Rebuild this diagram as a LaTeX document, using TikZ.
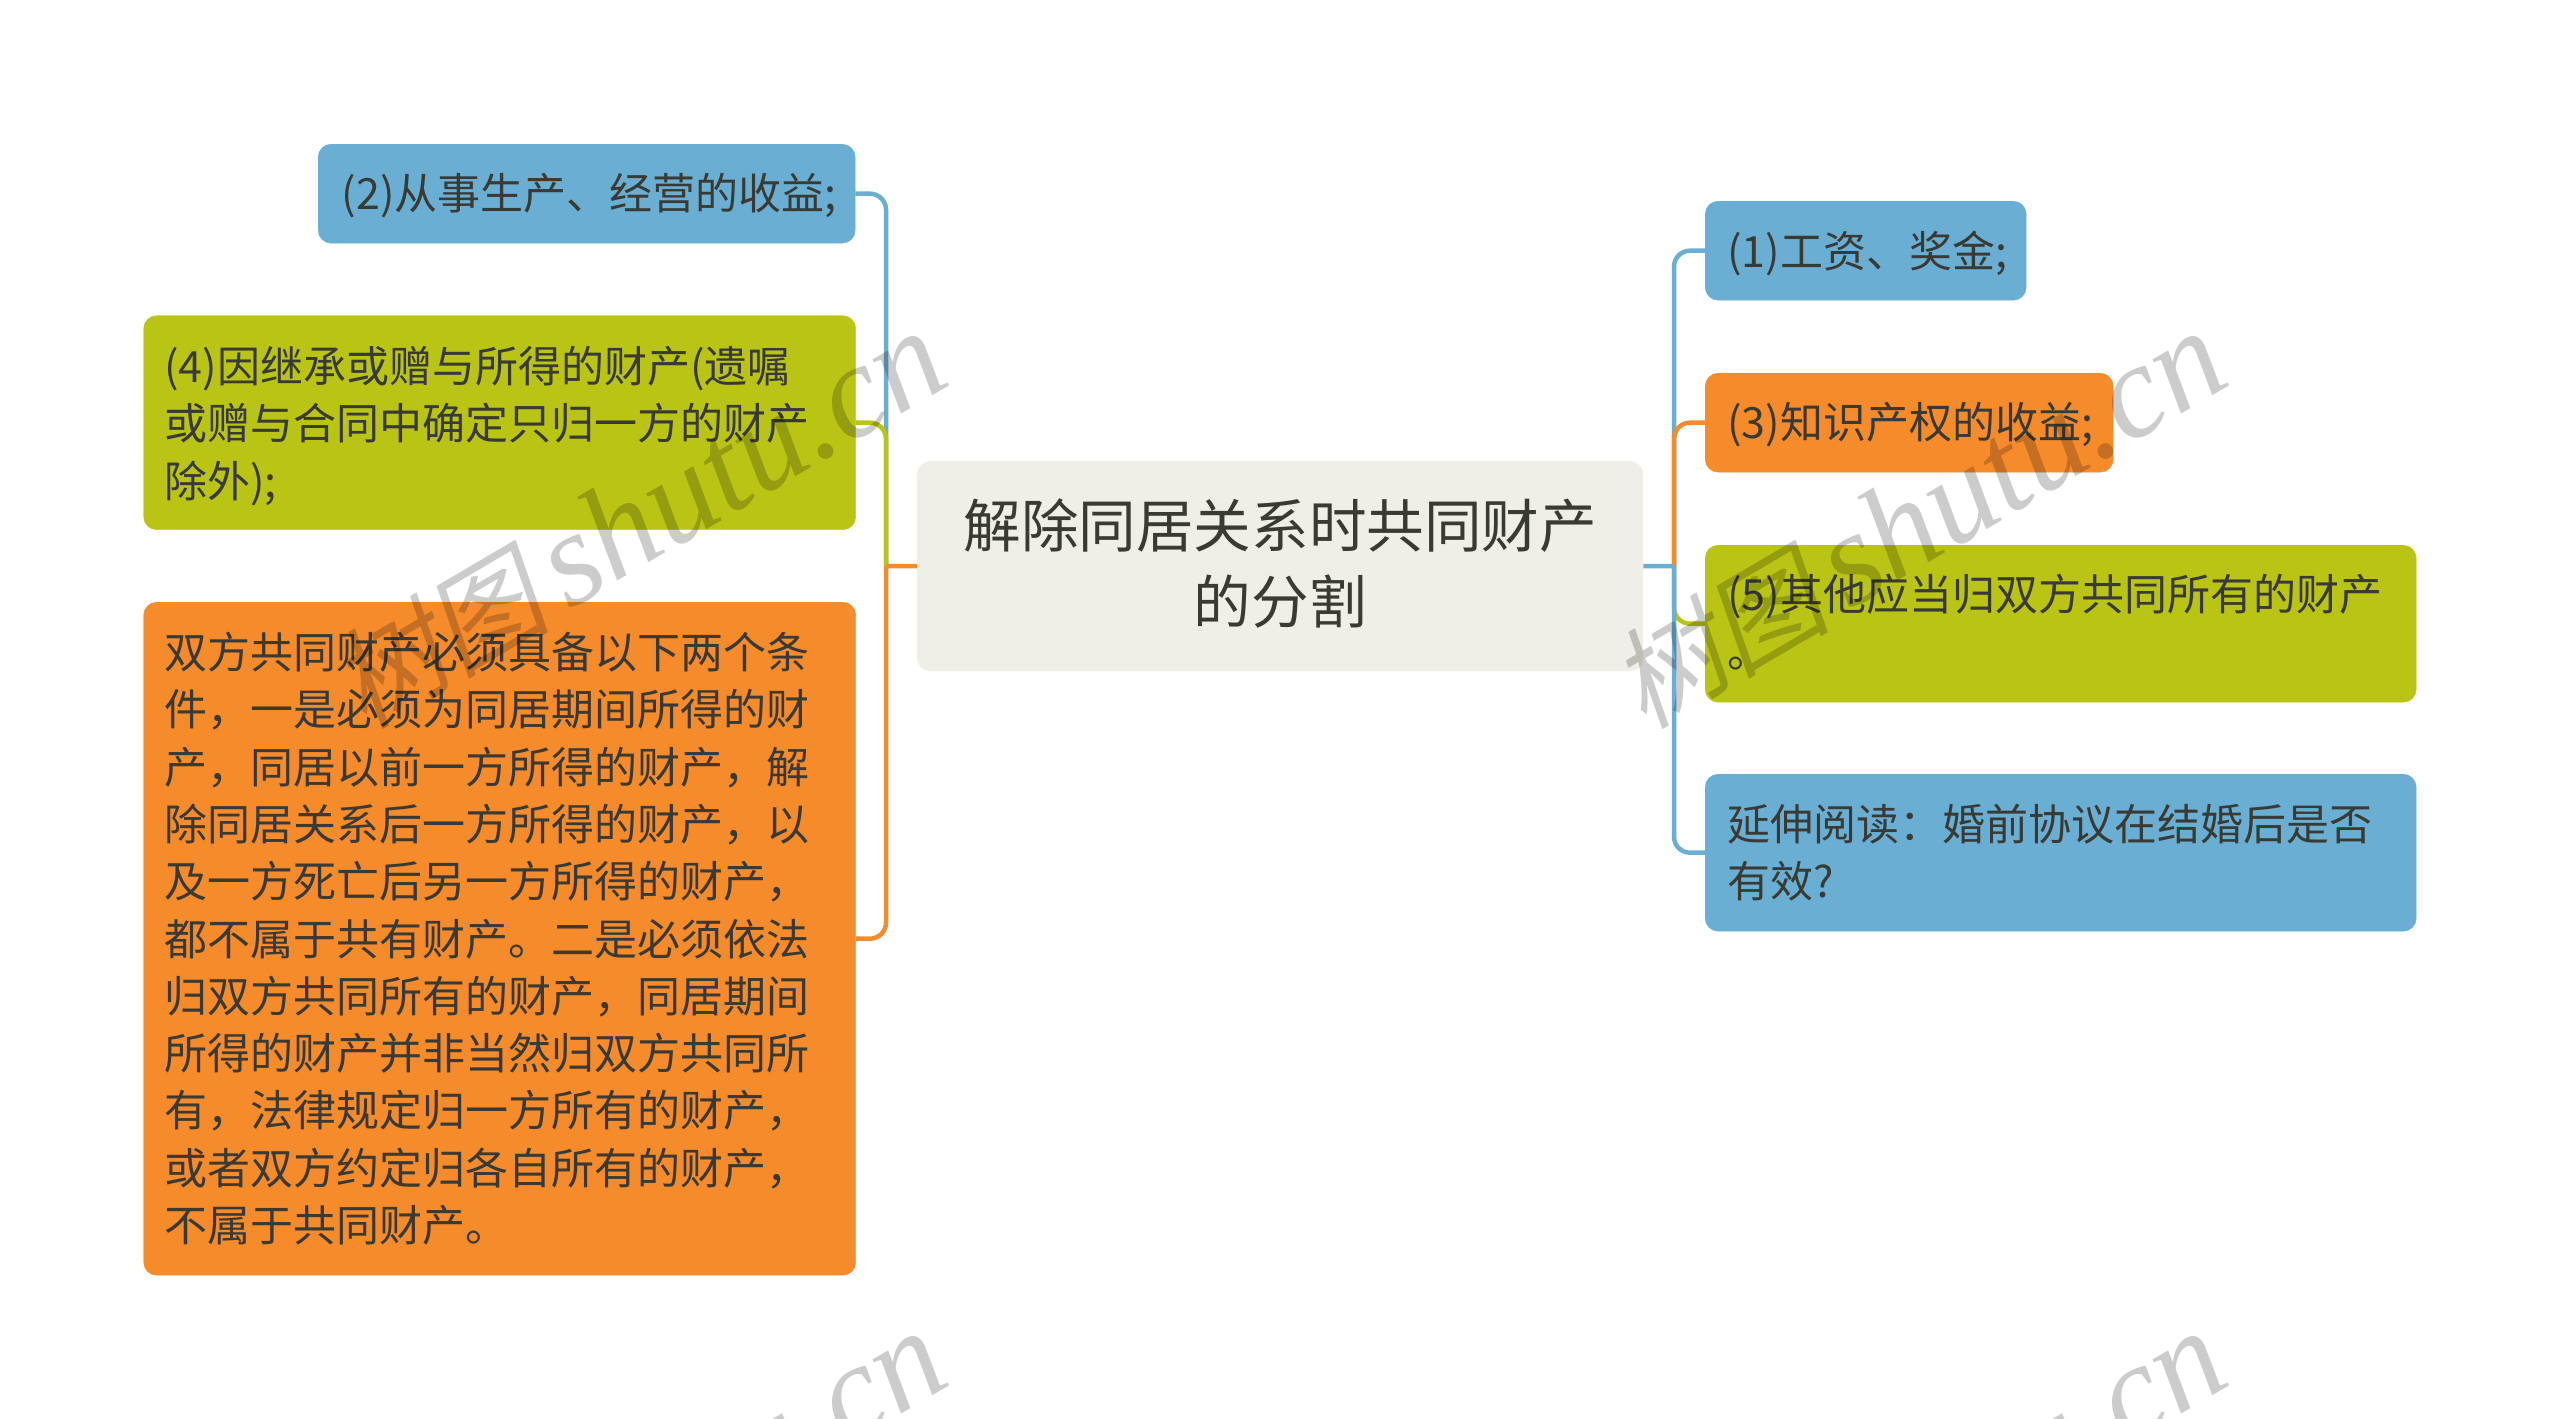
\documentclass[tikz,border=0pt]{standalone}
\usepackage{fontspec}
\setmainfont{Noto Sans CJK SC}
\newfontfamily\wmcjk[FakeSlant=0.2]{Noto Sans CJK SC}
\newfontfamily\wmlat{Liberation Serif}
\definecolor{cblue}{HTML}{6AAFD3}
\definecolor{cgreen}{HTML}{BAC414}
\definecolor{corange}{HTML}{F68B2C}
\definecolor{ccenter}{HTML}{EFEFE7}
\definecolor{ctext}{HTML}{3A3A34}
\newcommand{\wmtext}{{\fontsize{110}{120}\selectfont\wmcjk 树图}\hspace{18pt}{\fontsize{133}{140}\selectfont\wmlat\itshape shutu.cn}}
\newcommand{\topstrut}[1]{\rule{0pt}{#1}}
\newcommand{\botstrut}[1]{\rule[-#1]{0pt}{#1}}
\tikzset{
  x=1pt,y=-1pt,
  leaf/.style={anchor=north west,rounded corners=13pt,inner ysep=0pt,inner xsep=22pt,align=left,text=ctext,
    font=\fontsize{43}{57.3}\selectfont},
  root/.style={anchor=north west,rounded corners=13pt,inner ysep=0pt,inner xsep=10pt,align=center,text=ctext,fill=ccenter,
    font=\fontsize{57.6}{76}\selectfont},
  link/.style={line width=4.5pt,rounded corners=16pt},
  wmark/.style={rotate=30.5,opacity=.2,text opacity=.2,text=black,inner sep=0pt},
}
\begin{document}
\begin{tikzpicture}
\useasboundingbox (0,0) rectangle (2560,1419);
\fill[white] (0,0) rectangle (2560,1419);

\coordinate (tl) at (886,566);
\coordinate (tr) at (1674,566);

\node[root,minimum width=726pt,minimum height=210pt,text width=706pt] (c) at (917,461)
  {解除同居关系时共同财产\\的分割\botstrut{11pt}};

\node[leaf,fill=cblue,draw=cblue,minimum width=537pt,minimum height=99pt,text width=515pt,inner xsep=11pt] (l2) at (318,144)
  {\topstrut{40.5pt}\hspace{12.5pt}(2)从事生产、经营的收益;};
\node[leaf,fill=cgreen,draw=cgreen,minimum width=712pt,minimum height=214pt,text width=671pt,inner xsep=20.5pt] (l4) at (143.5,315.5)
  {\topstrut{42.5pt}(4)因继承或赠与所得的财产(遗嘱\\或赠与合同中确定只归一方的财产\\除外);};
\node[leaf,fill=corange,draw=corange,minimum width=712pt,minimum height=673pt,text width=671pt,inner xsep=20.5pt] (l0) at (143.5,602)
  {双方共同财产必须具备以下两个条\\件，一是必须为同居期间所得的财\\产，同居以前一方所得的财产，解\\除同居关系后一方所得的财产，以\\及一方死亡后另一方所得的财产，\\都不属于共有财产。二是必须依法\\归双方共同所有的财产，同居期间\\所得的财产并非当然归双方共同所\\有，法律规定归一方所有的财产，\\或者双方约定归各自所有的财产，\\不属于共同财产。};

\node[leaf,fill=cblue,draw=cblue,minimum width=321pt,minimum height=99pt,text width=277pt] (r1) at (1705,201)
  {\topstrut{42pt}(1)工资、奖金;};
\node[leaf,fill=corange,draw=corange,minimum width=408pt,minimum height=99pt,text width=364pt] (r3) at (1705,373)
  {\topstrut{40.5pt}(3)知识产权的收益;};
\node[leaf,fill=cgreen,draw=cgreen,minimum width=711pt,minimum height=157pt,text width=667pt] (r5) at (1705,545)
  {(5)其他应当归双方共同所有的财产\\。\botstrut{6pt}};
\node[leaf,fill=cblue,draw=cblue,minimum width=711pt,minimum height=157pt,text width=667pt] (r6) at (1705,774)
  {延伸阅读：婚前协议在结婚后是否\\有效?};

\draw[link,cblue] (tl) |- (l2.east);
\draw[link,cgreen] (tl) |- (l4.east);
\draw[link,corange] (tl) |- (l0.east);
\draw[link,corange] (c.west) -- (tl);

\draw[link,cblue] (tr) |- (r1.west);
\draw[link,corange] (tr) |- (r3.west);
\draw[link,cgreen] (tr) |- (r5.west);
\draw[link,cblue] (tr) |- (r6.west);
\draw[link,cblue] (c.east) -- (tr);

\begin{scope}
\clip (0,0) rectangle (2560,1419);
\node[wmark] (w1) at (638,521) {\wmtext};
\node[wmark] (w2) at (1918,521) {\wmtext};
\node[wmark] (w3) at (638,1521) {\wmtext};
\node[wmark] (w4) at (1918,1521) {\wmtext};
\end{scope}
\end{tikzpicture}
\end{document}
